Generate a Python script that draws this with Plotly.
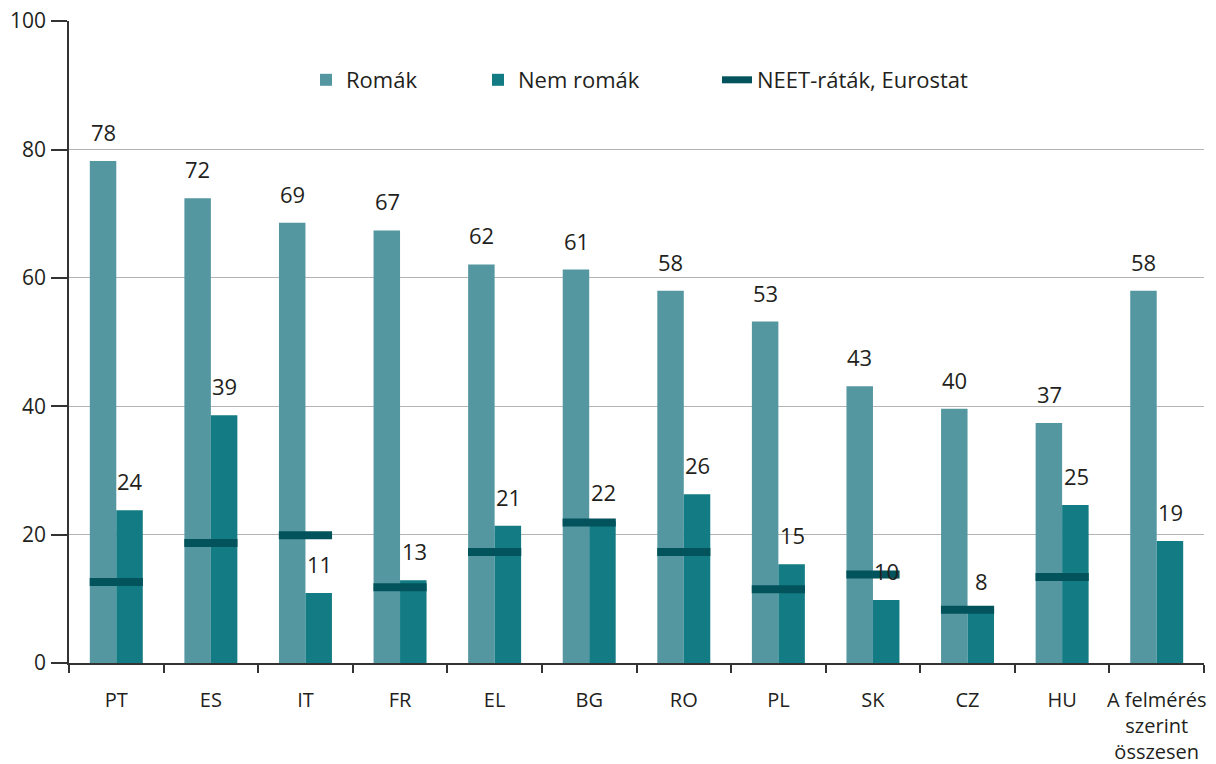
import plotly.graph_objects as go

categories = ["PT", "ES", "IT", "FR", "EL", "BG", "RO", "PL", "SK", "CZ", "HU",
              "A felmérés<br>szerint<br>összesen"]
romak = [78.2, 72.4, 68.6, 67.4, 62.1, 61.3, 58.0, 53.2, 43.1, 39.6, 37.4, 58.0]
nem_romak = [23.8, 38.6, 10.9, 12.9, 21.4, 22.1, 26.3, 15.4, 9.8, 8.3, 24.6, 19.0]
neet = [12.6, 18.7, 19.9, 11.8, 17.3, 21.9, 17.3, 11.5, 13.8, 8.3, 13.4, None]

FONT = "Open Sans"
TXT = "#231f20"
C_ROM = "#5597A1"
C_NEM = "#127B83"
C_NEET = "#02535C"

W, H = 1216, 764
ML, MR, MT, MB = 69, 12, 21, 101
PW = W - ML - MR
PH = H - MT - MB

def px_to_paper_x(px):
    return (px - ML) / PW

def px_to_paper_y(py):
    return ((MT + PH) - py) / PH

fig = go.Figure()
fig.add_trace(go.Bar(
    x=categories, y=romak, name="Romák",
    marker=dict(color=C_ROM, line=dict(width=0)), legend="legend",
))
fig.add_trace(go.Bar(
    x=categories, y=nem_romak, name="Nem romák",
    marker=dict(color=C_NEM, line=dict(width=0)), legend="legend2",
))
fig.add_trace(go.Scatter(
    x=categories, y=neet, name="NEET-ráták, Eurostat", mode="markers",
    marker=dict(symbol="line-ew", size=38, color=C_NEET,
                line=dict(width=8, color=C_NEET)),
    cliponaxis=False, showlegend=False,
))
# legend entry for NEET (thick dash swatch)
fig.add_trace(go.Scatter(
    x=[None], y=[None], name="NEET-ráták, Eurostat", mode="lines",
    line=dict(width=7, color=C_NEET), legend="legend3", showlegend=True,
))

# value labels above bars
annotations = []
for cat, r, n in zip(categories, romak, nem_romak):
    annotations.append(dict(x=cat, y=r, xref="x", yref="y", text=f"{r:.0f}",
                            showarrow=False, xshift=-13, yshift=12, yanchor="bottom",
                            font=dict(family=FONT, size=22, color=TXT)))
    annotations.append(dict(x=cat, y=n, xref="x", yref="y", text=f"{n:.0f}",
                            showarrow=False, xshift=14, yshift=12, yanchor="bottom",
                            font=dict(family=FONT, size=22, color=TXT)))

leg_common = dict(orientation="h", xanchor="left", yanchor="middle",
                  y=px_to_paper_y(80), bgcolor="rgba(0,0,0,0)",
                  font=dict(family=FONT, size=22, color=TXT))

fig.update_layout(
    width=W, height=H,
    margin=dict(l=ML, r=MR, t=MT, b=MB, autoexpand=False),
    paper_bgcolor="white", plot_bgcolor="white",
    barmode="group", bargap=0.44, bargroupgap=0,
    font=dict(family=FONT, size=20, color=TXT),
    showlegend=True,
    legend=dict(x=px_to_paper_x(306), **leg_common),
    legend2=dict(x=px_to_paper_x(478), **leg_common),
    legend3=dict(x=px_to_paper_x(717), **leg_common),
    annotations=annotations,
    xaxis=dict(type="category", range=[-0.5, 11.5], automargin=False, tickangle=0,
               showline=True, linecolor="#333333", linewidth=1.5,
               ticks="outside", tickson="boundaries", ticklen=8, tickcolor="#333333",
               tickwidth=1.5, showgrid=False, ticklabelstandoff=18,
               tickfont=dict(family=FONT, size=20, color=TXT)),
    yaxis=dict(range=[0, 100.02], dtick=20, automargin=False, showline=True,
               linecolor="#333333", linewidth=1.5,
               ticks="outside", ticklen=16, tickcolor="#333333", tickwidth=1.5,
               showgrid=True, gridcolor="#b4b4b4", gridwidth=1.2, zeroline=False,
               ticklabelstandoff=1,
               tickfont=dict(family=FONT, size=21, color=TXT)),
)

fig.write_html("out.html", config={"displayModeBar": False},
               post_script="document.body.style.margin='0px';document.body.style.overflow='hidden';")
